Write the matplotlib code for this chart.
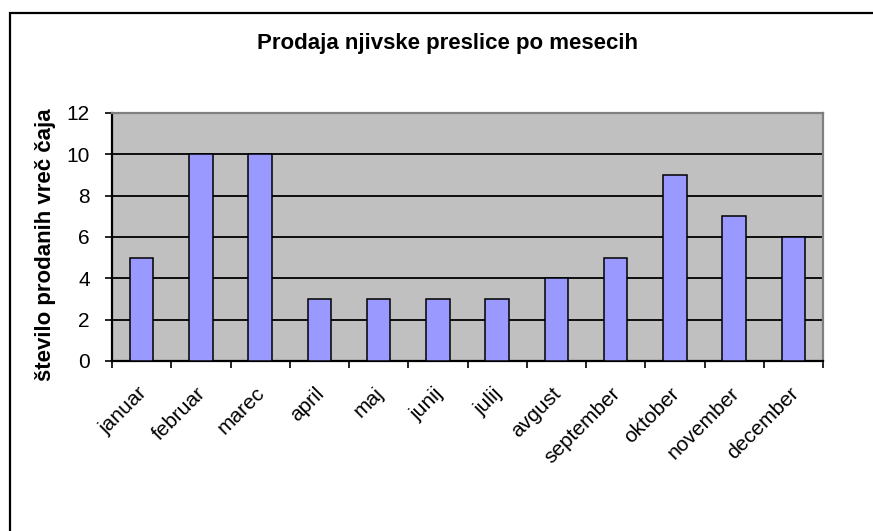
import matplotlib
matplotlib.use('Agg')
import matplotlib.pyplot as plt
from matplotlib.patches import Rectangle
import numpy as np

# prodaja po mesecih
months = ['januar', 'februar', 'marec', 'april', 'maj', 'junij', 'julij',
          'avgust', 'september', 'oktober', 'november', 'december']
sold = [5, 10, 10, 3, 3, 3, 3, 4, 5, 9, 7, 6]
y_ticks = [0, 2, 4, 6, 8, 10, 12]

plt.rcParams['font.family'] = ['Liberation Sans', 'DejaVu Sans']

W, H = 873, 531
fig = plt.figure(figsize=(W / 100, H / 100), dpi=100)

# okvir grafikona (desni in spodnji rob sta izven slike)
fig.patches.append(Rectangle((10 / W, -0.1), 1.0, 1 - 13 / H + 0.1,
                             transform=fig.transFigure, fill=False,
                             edgecolor='black', linewidth=1.6))

ax = fig.add_axes([112 / W, (H - 361) / H, (823 - 112) / W, (361 - 113) / H])
ax.set_facecolor('#c0c0c0')

x = np.arange(len(months))
ax.bar(x, sold, width=0.4, color='#9999ff', edgecolor='black',
       linewidth=1.1, zorder=3)

ax.set_xlim(-0.5, len(months) - 0.5)
ax.set_ylim(0, 12)
ax.set_yticks(y_ticks)
ax.yaxis.grid(True, color='black', linewidth=1.3, zorder=1)
ax.set_axisbelow(True)

# kljukice na mejah kategorij
ax.set_xticks(np.arange(len(months) + 1) - 0.5)
ax.set_xticklabels([])
ax.tick_params(axis='x', length=5, width=1.2, color='black')
ax.tick_params(axis='y', length=5, width=1.2, color='black', labelsize=15, pad=11)
for i, m in enumerate(months):
    ax.text(i - 0.08, -1.1, m, rotation=45, ha='right', va='top',
            rotation_mode='anchor', fontsize=15)

for s in ['left', 'bottom']:
    ax.spines[s].set_color('black')
    ax.spines[s].set_linewidth(1.6)
for s in ['top', 'right']:
    ax.spines[s].set_color('#808080')
    ax.spines[s].set_linewidth(1.6)

fig.text(448 / W, 1 - 43 / H, 'Prodaja njivske preslice po mesecih',
         ha='center', va='center', fontsize=16, fontweight='bold')
fig.text(46 / W, 1 - 245 / H, 'število prodanih vreč čaja', rotation=90,
         ha='center', va='center', fontsize=16, fontweight='bold')

fig.savefig('out.png', dpi=100)
